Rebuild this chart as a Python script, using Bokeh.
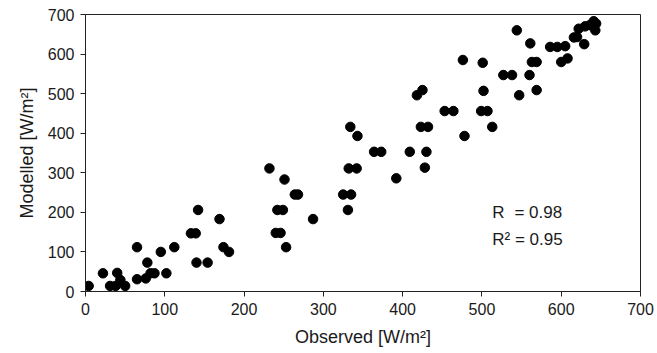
from bokeh.plotting import figure
from bokeh.models import FixedTicker, Label, Range1d
from bokeh.embed import file_html
from bokeh.resources import INLINE

observed = [4, 22, 31, 40, 38, 44, 50, 65, 65, 76, 78, 82, 87, 95, 102, 112,
            133, 139, 142, 140, 154, 169, 174, 181,
            232, 251, 264, 268, 242, 249, 240, 246, 253, 287, 325, 335, 332, 342, 331,
            476, 501, 334, 343, 425, 418, 453, 464, 502, 499, 507, 513, 423, 432, 478,
            364, 373, 409, 430, 428, 392,
            544, 561, 527, 538, 547, 560, 563, 569, 569, 586, 595, 605, 600, 608,
            616, 620, 629, 622, 630, 641, 644, 636, 643]
modelled = [14, 46, 14, 47, 14, 29, 14, 112, 31, 33, 73, 46, 46, 100, 46, 112,
            147, 147, 206, 73, 73, 183, 112, 100,
            311, 283, 245, 245, 206, 206, 148, 148, 112, 183, 245, 245, 311, 311, 206,
            585, 578, 416, 393, 509, 496, 456, 456, 507, 456, 456, 416, 416, 416, 393,
            353, 353, 353, 353, 313, 286,
            660, 627, 547, 547, 496, 547, 580, 580, 509, 618, 618, 620, 580, 589,
            642, 643, 625, 664, 670, 683, 677, 673, 660]

ticks = [0, 100, 200, 300, 400, 500, 600, 700]
stats_r = "0.98"
stats_r2 = "0.95"

p = figure(width=657, height=353, output_backend="svg", toolbar_location=None,
           x_range=Range1d(0, 700), y_range=Range1d(0, 700),
           min_border_left=85, min_border_right=17, min_border_top=14, min_border_bottom=62)
p.background_fill_color = "white"
p.border_fill_color = "white"
p.outline_line_color = "#222222"
p.outline_line_width = 1
p.xgrid.visible = False
p.ygrid.visible = False

p.scatter(observed, modelled, size=9.5, color="black")

for ax in (p.xaxis[0], p.yaxis[0]):
    ax.ticker = FixedTicker(ticks=ticks)
    ax.minor_tick_line_color = None
    ax.major_tick_in = 0
    ax.major_tick_out = 5
    ax.axis_line_color = "#222222"
    ax.major_tick_line_color = "#222222"
    ax.major_label_text_font = "Liberation Sans"
    ax.major_label_text_font_size = "16px"
    ax.major_label_text_color = "#1a1a1a"
    ax.axis_label_text_font = "Liberation Sans"
    ax.axis_label_text_font_size = "18px"
    ax.axis_label_text_font_style = "normal"
    ax.axis_label_text_color = "#1a1a1a"
    ax.major_label_standoff = 6

p.xaxis.axis_label = "Observed [W/m²]"
p.yaxis.axis_label = "Modelled [W/m²]"
p.xaxis.axis_label_standoff = 9
p.yaxis.axis_label_standoff = 8

lbl_kw = dict(text_font="Liberation Sans", text_font_size="17px", text_color="#1a1a1a",
              text_baseline="middle")
p.add_layout(Label(x=513, y=199, text="R", **lbl_kw))
p.add_layout(Label(x=541, y=199, text="= " + stats_r, **lbl_kw))
p.add_layout(Label(x=513, y=132, text="R² = " + stats_r2, **lbl_kw))

open("out.html", "w").write(file_html(p, INLINE))
